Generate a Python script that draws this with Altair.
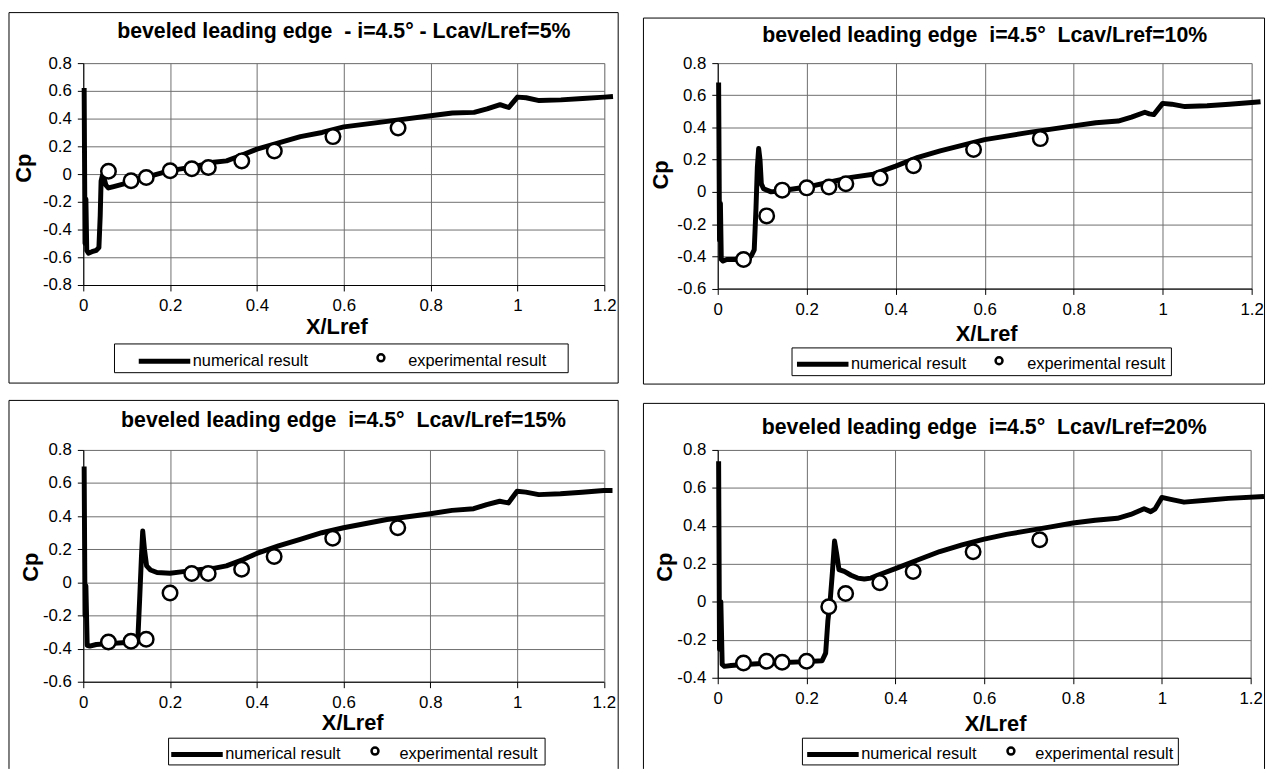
import altair as alt
import pandas as pd

FONT = "Liberation Sans"

# experimental stations (same for all four cases)
exp_x = [0.058, 0.11, 0.145, 0.2, 0.25, 0.288, 0.365, 0.44, 0.575, 0.725]

# Lcav/Lref = 5 %
n1_x = [0.002, 0.004, 0.006, 0.008, 0.012, 0.02, 0.03, 0.036, 0.039, 0.041, 0.044, 0.048, 0.052, 0.058, 0.07,
        0.1, 0.13, 0.16, 0.2, 0.25, 0.3, 0.33, 0.36, 0.4, 0.45, 0.5, 0.55, 0.6, 0.7, 0.8, 0.85, 0.9, 0.93, 0.96,
        0.97, 0.98, 1.0, 1.02, 1.05, 1.1, 1.15, 1.2, 1.22]
n1_cp = [0.62, -0.50, -0.18, -0.55, -0.57, -0.56, -0.55, -0.53, -0.30, -0.05, -0.01, -0.03, -0.08, -0.10, -0.09,
         -0.065, -0.04, -0.01, 0.025, 0.05, 0.085, 0.095, 0.13, 0.18, 0.225, 0.27, 0.30, 0.34, 0.38, 0.42, 0.44,
         0.445, 0.47, 0.50, 0.49, 0.48, 0.555, 0.55, 0.53, 0.535, 0.545, 0.555, 0.56]
e1_cp = [0.02, -0.048, -0.025, 0.024, 0.038, 0.048, 0.095, 0.167, 0.27, 0.333]

# Lcav/Lref = 10 %
n2_x = [0.002, 0.004, 0.006, 0.008, 0.012, 0.02, 0.04, 0.06, 0.075, 0.082, 0.086, 0.089, 0.092, 0.095, 0.098,
        0.103, 0.12, 0.15, 0.2, 0.25, 0.3, 0.35, 0.4, 0.45, 0.5, 0.6, 0.7, 0.8, 0.85, 0.9, 0.93, 0.96, 0.97, 0.98,
        1.0, 1.02, 1.05, 1.1, 1.15, 1.2, 1.22]
n2_cp = [0.68, -0.30, -0.07, -0.42, -0.43, -0.42, -0.42, -0.41, -0.40, -0.36, -0.10, 0.15, 0.27, 0.20, 0.05,
         0.02, 0.0, 0.01, 0.03, 0.06, 0.09, 0.11, 0.16, 0.215, 0.255, 0.325, 0.37, 0.41, 0.43, 0.44, 0.465, 0.495,
         0.485, 0.48, 0.55, 0.545, 0.53, 0.535, 0.545, 0.555, 0.56]
e2_cp = [-0.42, -0.149, 0.011, 0.025, 0.03, 0.05, 0.087, 0.162, 0.263, 0.331]

# Lcav/Lref = 15 %
n3_x = [0.002, 0.004, 0.006, 0.009, 0.015, 0.03, 0.06, 0.09, 0.12, 0.126, 0.13, 0.134, 0.137, 0.141, 0.146,
        0.155, 0.17, 0.2, 0.23, 0.26, 0.3, 0.33, 0.37, 0.4, 0.45, 0.5, 0.55, 0.6, 0.7, 0.8, 0.85, 0.9, 0.93, 0.96,
        0.97, 0.98, 1.0, 1.02, 1.05, 1.1, 1.15, 1.2, 1.22]
n3_cp = [0.70, -0.20, -0.02, -0.38, -0.385, -0.375, -0.37, -0.365, -0.36, -0.33, -0.10, 0.15, 0.31, 0.20, 0.10,
         0.075, 0.06, 0.055, 0.065, 0.075, 0.085, 0.10, 0.14, 0.175, 0.22, 0.26, 0.30, 0.33, 0.38, 0.415, 0.435,
         0.445, 0.47, 0.49, 0.485, 0.48, 0.55, 0.545, 0.53, 0.535, 0.545, 0.555, 0.555]
e3_cp = [-0.36, -0.355, -0.344, -0.064, 0.054, 0.054, 0.079, 0.156, 0.267, 0.33]

# Lcav/Lref = 20 %
n4_x = [0.002, 0.004, 0.007, 0.010, 0.015, 0.03, 0.06, 0.1, 0.15, 0.2, 0.235, 0.243, 0.248, 0.253, 0.258,
        0.263, 0.268, 0.273, 0.285, 0.3, 0.315, 0.33, 0.345, 0.36, 0.4, 0.45, 0.5, 0.55, 0.6, 0.65, 0.7, 0.75,
        0.8, 0.85, 0.9, 0.93, 0.96, 0.975, 0.985, 1.0, 1.02, 1.05, 1.1, 1.15, 1.23]
n4_cp = [0.74, -0.25, 0.0, -0.33, -0.34, -0.335, -0.33, -0.325, -0.32, -0.315, -0.31, -0.27, -0.10, 0.0, 0.15,
         0.32, 0.25, 0.17, 0.16, 0.14, 0.125, 0.12, 0.125, 0.14, 0.175, 0.22, 0.265, 0.30, 0.33, 0.355, 0.375,
         0.395, 0.415, 0.43, 0.44, 0.46, 0.49, 0.475, 0.49, 0.55, 0.54, 0.525, 0.535, 0.545, 0.555]
e4_cp = [-0.322, -0.313, -0.318, -0.313, -0.026, 0.044, 0.101, 0.16, 0.264, 0.327]

titles = [
    "beveled leading edge\u00a0 - i=4.5° - Lcav/Lref=5%",
    "beveled leading edge\u00a0 i=4.5°\u00a0 Lcav/Lref=10%",
    "beveled leading edge\u00a0 i=4.5°\u00a0 Lcav/Lref=15%",
    "beveled leading edge\u00a0 i=4.5°\u00a0 Lcav/Lref=20%",
]
x_ticks = [0, 0.2, 0.4, 0.6, 0.8, 1.0, 1.2]
y_ticks_all = [-0.8, -0.6, -0.4, -0.2, 0, 0.2, 0.4, 0.6, 0.8]
series_names = ["numerical result", "experimental result"]

panels = [
    dict(nx=n1_x, ncp=n1_cp, ecp=e1_cp, title=titles[0], w=526, h=224, ymin=-0.8,
         border=(-75, -51, 540, 323), closed=True, top_pad=None, title_off=-47.5,
         xt=(255.5, 48.5), yt=(-53, 105.5), box=(31.5, 283.5, 489.5, 312.5),
         leg1=(53.5, 272.5, 0), leg2=(287, 292.5, 24.6), circ=(300.5, 297.5)),
    dict(nx=n2_x, ncp=n2_cp, ecp=e2_cp, title=titles[1], w=539, h=227.5, ymin=-0.6,
         border=(-75, -45.5, 552, 324), closed=True, top_pad=-51, title_off=-51.5,
         xt=(271, 53), yt=(-51, 112.5), box=(75, 287.5, 458, 315.5),
         leg1=(77.5, 275.5, 0), leg2=(270.6, 295.5, 25.4), circ=(284, 300.5)),
    dict(nx=n3_x, ncp=n3_cp, ecp=e3_cp, title=titles[2], w=525.5, h=234, ymin=-0.6,
         border=(-75, -50, 540, 322), closed=False, top_pad=None, title_off=-49,
         xt=(271.5, 48.7), yt=(-46, 118), box=(86.1, 291, 466.2, 318),
         leg1=(86.3, 279, 0), leg2=(281.1, 299, 21.6), circ=(294.5, 304)),
    dict(nx=n4_x, ncp=n4_cp, ecp=e4_cp, title=titles[3], w=538, h=230, ymin=-0.4,
         border=(-75, -47, 552, 322), closed=False, top_pad=-50, title_off=-55,
         xt=(280, 53.3), yt=(-47, 118), box=(85.5, 291, 465, 318),
         leg1=(87.8, 279, 0), leg2=(282.6, 299, 21.5), circ=(296, 304)),
]

one = alt.Data(values=[{"k": 1}])
LABEL_EXPR = "replace(datum.label, '\u2212', '-')"


def make_panel(p):
    num = pd.DataFrame({"x": p["nx"], "cp": p["ncp"], "i": list(range(len(p["nx"]))),
                        "series": series_names[0]})
    exp = pd.DataFrame({"x": exp_x, "cp": p["ecp"], "series": series_names[1]})
    yt = [v for v in y_ticks_all if v >= p["ymin"] - 1e-9]
    xs = alt.Scale(domain=[0, 1.2], nice=False, zero=False)
    ys = alt.Scale(domain=[p["ymin"], 0.8], nice=False, zero=False)
    common = dict(grid=True, gridColor="#6e6e6e", gridWidth=1, domainColor="#000000", domainWidth=1,
                  tickColor="#000000", tickSize=6, labelFont=FONT, labelFontSize=17, labelColor="#000000",
                  format=".1~f", labelExpr=LABEL_EXPR, titleFont=FONT, titleFontSize=22,
                  titleFontWeight="bold", titleColor="#000000", titleBaseline="alphabetic",
                  titleAlign="center")
    x_axis = alt.Axis(values=x_ticks, labelPadding=7, labelFlush=False, labelOverlap=False,
                      title="X/Lref", titleX=p["xt"][0], titleY=p["xt"][1], **common)
    y_axis = alt.Axis(values=yt, labelPadding=6, labelOverlap=False, title="Cp", titleAngle=270,
                      titleX=p["yt"][0], titleY=p["yt"][1], **common)

    l1x, l1y, l1o = p["leg1"]
    l2x, l2y, l2o = p["leg2"]
    line = alt.Chart(num).mark_line(strokeWidth=5, strokeJoin="round").encode(
        x=alt.X("x:Q", scale=xs, axis=x_axis),
        y=alt.Y("cp:Q", scale=ys, axis=y_axis),
        order=alt.Order("i:Q"),
        color=alt.Color("series:N", scale=alt.Scale(domain=[series_names[0]], range=["#000000"]),
                        legend=alt.Legend(title=None, orient="none", legendX=l1x, legendY=l1y,
                                          symbolType="stroke", symbolSize=2704, symbolStrokeWidth=5,
                                          symbolStrokeColor="#000000", labelFont=FONT, labelFontSize=16.5,
                                          labelColor="#000000", labelOffset=l1o, padding=0)),
    )
    pts = alt.Chart(exp).mark_point(filled=False, color="#000000", fill="#ffffff", fillOpacity=1,
                                    strokeWidth=2.5, size=215, opacity=1).encode(
        x=alt.X("x:Q", scale=xs, axis=x_axis),
        y=alt.Y("cp:Q", scale=ys, axis=y_axis),
        shape=alt.Shape("series:N", scale=alt.Scale(domain=[series_names[1]], range=["circle"]),
                        legend=alt.Legend(title=None, orient="none", legendX=l2x, legendY=l2y,
                                          symbolType="circle", symbolSize=49, symbolOpacity=0,
                                          labelFont=FONT, labelFontSize=16.5, labelColor="#000000",
                                          labelOffset=l2o, padding=0)),
    )

    L, T, R, B = p["border"]
    deco = []
    if p["closed"]:
        deco.append(alt.Chart(one).mark_rect(filled=False, stroke="#000000", strokeWidth=1).encode(
            x=alt.value(L), x2=alt.value(R), y=alt.value(T), y2=alt.value(B)))
    else:
        deco.append(alt.Chart(one).mark_rule(color="#000000", strokeWidth=1).encode(
            x=alt.value(L), y=alt.value(T), y2=alt.value(B)))
        deco.append(alt.Chart(one).mark_rule(color="#000000", strokeWidth=1).encode(
            x=alt.value(L), x2=alt.value(R), y=alt.value(T)))
        deco.append(alt.Chart(one).mark_rule(color="#000000", strokeWidth=1).encode(
            x=alt.value(R), y=alt.value(T), y2=alt.value(B)))
    if p["top_pad"] is not None:
        deco.append(alt.Chart(one).mark_rule(color="#ffffff", strokeOpacity=0, strokeWidth=1).encode(
            x=alt.value(0), x2=alt.value(10), y=alt.value(p["top_pad"])))
    bx1, by1, bx2, by2 = p["box"]
    deco.append(alt.Chart(one).mark_rect(filled=False, stroke="#000000", strokeWidth=1).encode(
        x=alt.value(bx1), x2=alt.value(bx2), y=alt.value(by1), y2=alt.value(by2)))
    # legend symbol of the experimental series (hollow circle)
    deco.append(alt.Chart(one).mark_point(shape="circle", filled=False, color="#000000", strokeWidth=2.5,
                                          size=49, opacity=1).encode(
        x=alt.value(p["circ"][0]), y=alt.value(p["circ"][1])))

    return alt.layer(*deco, line, pts).properties(
        width=p["w"], height=p["h"],
        title=alt.TitleParams(text=p["title"], font=FONT, fontSize=21.5, fontWeight="bold",
                              color="#000000", anchor="middle", frame="group",
                              offset=p["title_off"], baseline="alphabetic"),
    )


ch = [make_panel(p) for p in panels]

chart = alt.concat(*ch, columns=2, align="none", bounds="full",
                   spacing=alt.RowColnumber(row=14.5, column=23.5), padding=0).resolve_scale(
    color="independent", shape="independent").resolve_legend(
    color="independent", shape="independent").configure_view(strokeWidth=0).configure(background="white")

chart.save("out.html", embed_options={"renderer": "svg", "actions": False})
